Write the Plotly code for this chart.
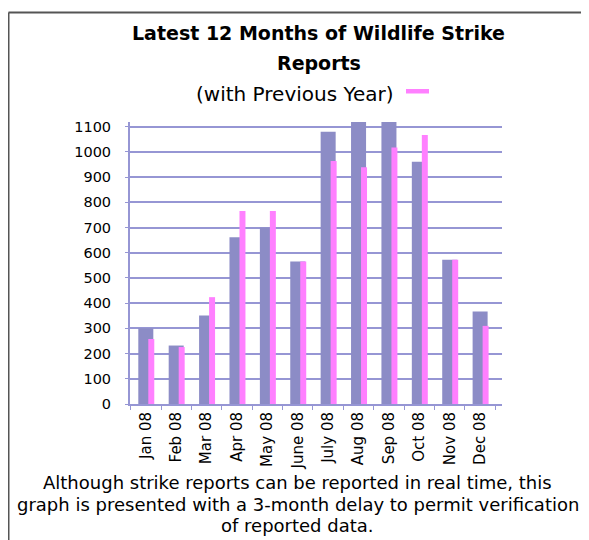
import plotly.graph_objects as go

months = ["Jan 08", "Feb 08", "Mar 08", "Apr 08", "May 08", "June 08",
          "July 08", "Aug 08", "Sep 08", "Oct 08", "Nov 08", "Dec 08"]
current_year = [301, 232, 351, 662, 700, 565, 1080, 1140, 1140, 961, 572, 367]
previous_year = [258, 226, 424, 766, 766, 565, 964, 939, 1018, 1067, 572, 310]
y_ticks = list(range(0, 1200, 100))

FONT = "DejaVu Sans"
BLUE = "#8c8cc6"
PINK = "#ff80ff"
GRID = "#9696d4"

# page body has an 8px margin, so the figure is laid out 8px up/left
OFF = 8

fig = go.Figure()
fig.add_trace(go.Bar(x=months, y=current_year, marker=dict(color=BLUE, line=dict(width=0)),
                     width=0.494, offset=-0.247, name="2008"))
fig.add_trace(go.Bar(x=months, y=previous_year, marker=dict(color=PINK, line=dict(width=0)),
                     width=0.197, offset=0.082, name="Previous Year"))

fig.update_layout(
    width=589, height=540,
    margin=dict(l=130 - OFF, r=589 - (502 - OFF), t=122 - OFF, b=540 - (404 - OFF)),
    barmode="overlay",
    showlegend=False,
    paper_bgcolor="white", plot_bgcolor="white",
    font=dict(family=FONT, color="black"),
    xaxis=dict(
        type="category", range=[-0.52, 11.72],
        showline=True, linecolor=GRID, linewidth=2,
        ticks="outside", tickson="boundaries", ticklen=4, tickcolor=GRID, tickwidth=1,
        tickangle=-90, tickfont=dict(size=15, family=FONT),
        showgrid=False, fixedrange=True,
    ),
    yaxis=dict(
        range=[0, 1119], tickvals=y_ticks,
        showline=True, linecolor=GRID, linewidth=2,
        ticks="outside", ticklen=3, tickcolor=GRID,
        showgrid=True, gridcolor=GRID, gridwidth=2,
        zeroline=False,
        tickfont=dict(size=14.5, family=FONT),
        ticklabelstandoff=11,
    ),
)

def px_x(px):
    return (px - 130) / 372

def px_y(py):
    return (404 - py) / 282

# Title lines
fig.add_annotation(text="<b>Latest 12 Months of Wildlife Strike</b>", xref="paper", yref="paper",
                   x=px_x(318.5), y=px_y(33), showarrow=False, font=dict(size=19, family=FONT),
                   xanchor="center", yanchor="middle")
fig.add_annotation(text="<b>Reports</b>", xref="paper", yref="paper",
                   x=px_x(318.5), y=px_y(63), showarrow=False, font=dict(size=19, family=FONT),
                   xanchor="center", yanchor="middle")
fig.add_annotation(text="(with Previous Year)", xref="paper", yref="paper",
                   x=px_x(295), y=px_y(93.5), showarrow=False, font=dict(size=20, family=FONT),
                   xanchor="center", yanchor="middle")
# legend swatch for previous year
fig.add_shape(type="rect", xref="paper", yref="paper",
              x0=px_x(406), x1=px_x(429), y0=px_y(93.5), y1=px_y(89),
              fillcolor=PINK, line=dict(width=0))

# Footnote
foot = ["Although strike reports can be reported in real time, this",
        "graph is presented with a 3-month delay to permit verification",
        "of reported data."]
for line, py in zip(foot, [482, 504, 525]):
    fig.add_annotation(text=line, xref="paper", yref="paper",
                       x=px_x(297.5), y=px_y(py), showarrow=False,
                       font=dict(size=18, family=FONT), xanchor="center", yanchor="middle")

# Frame (top and left border)
bx = px_x(8.5)
by = px_y(12.5)
fig.add_shape(type="line", xref="paper", yref="paper", x0=bx, x1=bx, y0=by, y1=-1.0,
              line=dict(color="#555555", width=2))
fig.add_shape(type="line", xref="paper", yref="paper", x0=bx, x1=1.5, y0=by, y1=by,
              line=dict(color="#555555", width=2))

fig.write_html("out.html")
